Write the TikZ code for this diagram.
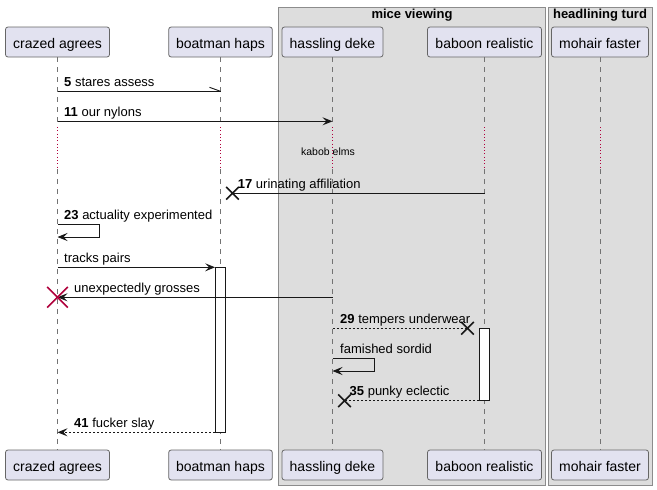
\documentclass[tikz,border=0pt]{standalone}
\usepackage{fontspec}
\setmainfont{Liberation Sans}
\usetikzlibrary{arrows.meta,shapes.misc}
\definecolor{partfill}{HTML}{E2E2F0}
\definecolor{ink}{HTML}{181818}
\definecolor{grpfill}{HTML}{DDDDDD}
\definecolor{grpline}{HTML}{8C8C8C}
\definecolor{delayred}{HTML}{B0003C}
\begin{document}
\begin{tikzpicture}[x=1pt,y=-1pt,
  part/.style={draw=black!60, line width=0.8pt, fill=partfill, rounded corners=2.5pt,
    minimum height=30pt, inner xsep=0pt, inner ysep=0pt, text height=13pt, text depth=0.4pt,
    font=\fontsize{14}{16}\selectfont},
  grp/.style={draw=grpline, line width=1pt, fill=grpfill},
  grptitle/.style={anchor=base, inner sep=0pt, font=\fontsize{13}{15}\selectfont\bfseries},
  life/.style={draw=black!55, line width=0.7pt, dash pattern=on 5pt off 5pt},
  delay/.style={draw=delayred, line width=0.9pt, dash pattern=on 1pt off 2.3pt},
  act/.style={draw=ink, line width=0.8pt, fill=white, minimum width=10pt, inner sep=0pt},
  msg/.style={draw=ink, line width=0.9pt, -{Stealth[length=10pt,width=8pt,inset=4pt]}},
  msgplain/.style={draw=ink, line width=0.9pt},
  ret/.style={draw=ink, line width=0.9pt, dash pattern=on 2pt off 2pt},
  retarrow/.style={ret, -{Stealth[length=10pt,width=8pt,inset=4pt]}},
  lbl/.style={anchor=base west, inner sep=0pt, font=\fontsize{13}{15}\selectfont},
  dlbl/.style={anchor=base, inner sep=0pt, font=\fontsize{10.5}{12}\selectfont},
  xmark/.style={draw=ink, cross out, minimum size=11pt, inner sep=0pt, line width=1.6pt},
  bigx/.style={draw=delayred, cross out, minimum size=19pt, inner sep=0pt, line width=1.6pt}
]
\useasboundingbox[fill=white] (0,0) rectangle (657,490);

% groups
\draw[grp] (278.5,7) rectangle (545.3,485);
\draw[grp] (548,7) rectangle (652,485);
\node[grptitle] (g1) at (412,18.5) {mice viewing};
\node[grptitle] (g2) at (600,18.5) {headlining turd};

% participants (top)
\node[part, minimum width=104pt] (ca) at (57.5,42) {crazed agrees};
\node[part, minimum width=103.6pt] (bh) at (220.5,42) {boatman haps};
\node[part, minimum width=101pt] (hd) at (332.5,42) {hassling deke};
\node[part, minimum width=114pt] (br) at (484.5,42) {baboon realistic};
\node[part, minimum width=97pt] (mf) at (600,42) {mohair faster};
% participants (bottom)
\node[part, minimum width=104pt] (ca2) at (57.5,465) {crazed agrees};
\node[part, minimum width=103.6pt] (bh2) at (220.5,465) {boatman haps};
\node[part, minimum width=101pt] (hd2) at (332.5,465) {hassling deke};
\node[part, minimum width=114pt] (br2) at (484.5,465) {baboon realistic};
\node[part, minimum width=97pt] (mf2) at (600,465) {mohair faster};

% lifelines with delay
\coordinate (d1) at (0,127);
\coordinate (d2) at (0,169);
\foreach \p in {ca,bh,hd,br,mf}{
  \draw[life] (\p.south) -- (\p |- d1);
  \draw[delay] (\p |- d1) -- (\p |- d2);
  \draw[life] (\p |- d2) -- (\p2.north);
}
\node[dlbl] (dl) at (328,155) {kabob elms};

% activations
\node[act, minimum height=165pt] (actb) at (220.5,349.8) {};
\node[act, minimum height=72.4pt] (actr) at (484.5,364.5) {};

% message y levels
\coordinate (y1) at (0,91.3);
\coordinate (y2) at (0,121.3);
\coordinate (y3) at (0,193.3);
\coordinate (y4a) at (0,224);
\coordinate (y4b) at (0,237);
\coordinate (y5) at (0,267.3);
\coordinate (y6) at (0,297.3);
\coordinate (y7) at (0,328.3);
\coordinate (y8a) at (0,358.7);
\coordinate (y8b) at (0,371);
\coordinate (y9) at (0,400.7);
\coordinate (y10) at (0,432.3);

% 5 stares assess (half arrow)
\draw[msgplain] (ca |- y1) coordinate (m1s) -- (bh |- y1) coordinate (m1e);
\draw[msgplain] (m1e) -- ++(-11,-4);
\node[lbl] (l1) at (64,86.3) {\textbf{5} stares assess};

% 11 our nylons
\draw[msg] (ca |- y2) -- (hd |- y2);
\node[lbl] (l2) at (64,116.3) {\textbf{11} our nylons};

% 17 urinating affiliation
\node[xmark] (x1) at (232.5,193.3) {};
\draw[msgplain] (br |- y3) -- (x1.center);
\node[lbl] (l3) at (237.7,188.5) {\textbf{17} urinating affiliation};

% 23 actuality experimented (self)
\draw[msg] (ca |- y4a) -- (99.5,224) -- (99.5,237) -- (ca |- y4b);
\node[lbl] (l4) at (64,219) {\textbf{23} actuality experimented};

% tracks pairs
\draw[msg] (ca |- y5) -- (actb.west |- y5);
\node[lbl] (l5) at (64,262.5) {tracks pairs};

% unexpectedly grosses
\draw[msg] (hd |- y6) -- (ca |- y6);
\node[bigx] (x2) at (ca |- y6) {};
\node[lbl] (l6) at (74,292.5) {unexpectedly grosses};

% 29 tempers underwear
\node[xmark] (x3) at (467.5,328.3) {};
\draw[ret] (hd |- y7) -- (x3.center);
\node[lbl] (l7) at (340,323.3) {\textbf{29} tempers underwear};

% famished sordid (self)
\draw[msg] (hd |- y8a) -- (374.5,358.7) -- (374.5,371) -- (hd |- y8b);
\node[lbl] (l8) at (340,353.8) {famished sordid};

% 35 punky eclectic
\node[xmark] (x4) at (344.5,400.7) {};
\draw[ret] (actr.west |- y9) -- (x4.center);
\node[lbl] (l9) at (349.5,395.8) {\textbf{35} punky eclectic};

% 41 fucker slay
\draw[retarrow] (actb.west |- y10) -- (ca |- y10);
\node[lbl] (l10) at (74,427.3) {\textbf{41} fucker slay};
\end{tikzpicture}
\end{document}
